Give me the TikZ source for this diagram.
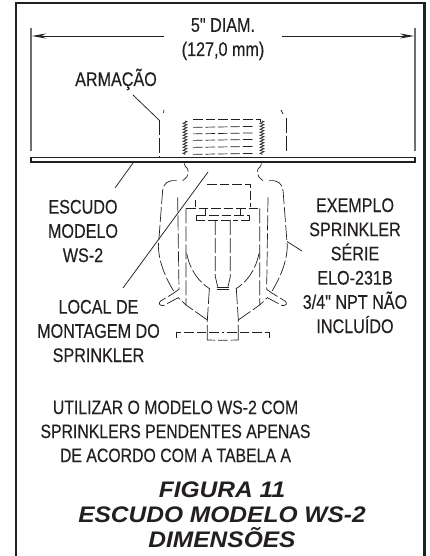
\documentclass[tikz,border=0pt]{standalone}
\usepackage{fontspec}
\usetikzlibrary{arrows.meta,decorations.pathmorphing}
\newfontfamily\narrowsans[FakeStretch=0.82,FakeBold=0.25]{Liberation Sans}
\newfontfamily\capsbold[FakeStretch=1.09]{Liberation Sans Bold Italic}
\definecolor{ink}{HTML}{231F20}
\tikzset{
  lbl/.style={text=ink,align=center,inner sep=0pt,anchor=base,font=\narrowsans\fontsize{19.7}{24.2}\selectfont},
  lblsmall/.style={text=ink,align=center,inner sep=0pt,anchor=base,font=\narrowsans\fontsize{19.3}{24}\selectfont},
  title/.style={text=ink,align=center,inner sep=0pt,anchor=base,font=\capsbold\fontsize{22.5}{24.7}\selectfont},
  frameline/.style={draw=ink,line width=2.2pt},
  extline/.style={draw=ink!65,line width=1.5pt},
  dimline/.style={draw=ink,line width=0.8pt,-{Stealth[length=14pt,width=5pt]}},
  leader/.style={draw=ink,line width=0.75pt},
  solidthin/.style={draw=ink,line width=0.7pt},
  dashthin/.style={draw=ink,line width=0.7pt,dash pattern=on 15pt off 3pt},
  dashshort/.style={draw=ink,line width=0.7pt,dash pattern=on 9.5pt off 3pt},
  threadline/.style={draw=ink,line width=0.7pt,decorate,decoration={zigzag,segment length=3pt,amplitude=2pt}},
  shield/.style={draw=ink,fill=white,line width=1.5pt}
}
\newcommand{\halfsprinkler}{%
    \draw[dashshort] (163,70) -- (165,78) .. controls (178,88) and (182,105) .. (158,122);
    \draw[dashthin] (140,122) .. controls (112,120) and (102,130) .. (98,150) -- (85,320) .. controls (88,370) and (105,410) .. (132,455);
    \draw[dashthin] (143,172) -- (147,448) -- (130,460) -- (92,483) .. controls (84,490) and (88,497) .. (100,497) -- (145,473) -- (168,495);
    \draw[dashthin] (168,205) -- (168,495) -- (232,540);
    \draw[dashthin] (170,340) .. controls (180,390) and (205,425) .. (240,447);
    \draw[dashthin] (238,447) -- (232,540) -- (232,595);
    \draw[dashthin] (256,240) -- (256,410) -- (263,440);
    \draw[solidthin] (227,204) -- (227,226);
    \draw[solidthin] (200,226) -- (200,240) -- (225,240);
    \draw[dashshort] (140,593) -- (140,578) -- (278,578);
    \draw[dashshort] (232,595) -- (232,600) -- (278,601);
}
\begin{document}
\begin{tikzpicture}[x=1pt,y=-1pt]
\useasboundingbox (0,0) rectangle (430,556);
\fill[white] (0,0) rectangle (430,556);
% frame
\draw[frameline,line join=miter] (16,556) -- (16,3) -- (424.5,3) -- (424.5,556);
% dimension
\coordinate (extLtop) at (31,28); \coordinate (extLbot) at (31,151);
\coordinate (extRtop) at (415,28); \coordinate (extRbot) at (415,151);
\draw[extline] (extLtop) -- (extLbot);
\draw[extline] (extRtop) -- (extRbot);
\coordinate (dimL) at (164,36); \coordinate (dimR) at (282,36);
\coordinate (arrL) at (32,36); \coordinate (arrR) at (414,36);
\draw[dimline] (dimL) -- (arrL);
\draw[dimline] (dimR) -- (arrR);
\node[lbl] (dimtext) at (223,56) {5" DIAM.\\(127,0 mm)};
% shield
\node[shield,minimum width=384pt,minimum height=4.5pt,inner sep=0pt,outer sep=0pt] (plate) at (223,160) {};
% frame arms above plate
\draw[dashthin] (159,120) -- (159,157);
\draw[dashthin] (286,118) -- (286,153);
\draw[solidthin] (164,110) -- (163.5,113);
\draw[solidthin] (281,110) -- (283,114);
% threads
\draw[threadline] (185,121) -- (185,155);
\draw[threadline] (262,121) -- (262,155);
% internal thread lines
\draw[dashshort] (193,119.5) -- (260,119.5) -- (260,122);
\foreach \yy/\xa in {127/254,133.5/254,140/254,147/254,154/254}
  \draw[dashshort] (193,\yy+0.4) -- (\xa,\yy-0.6);
% labels
\node[lbl] (armacao) at (116,86) {ARMAÇÃO};
\coordinate (armEnd) at (159,120); \coordinate (armStart) at (133,95);
\draw[leader] (armStart) -- (armEnd);
\node[lbl] (escudo) at (83,262) {ESCUDO\\MODELO\\WS-2};
\coordinate (escA) at (133,163); \coordinate (escB) at (115,188);
\draw[leader] (escA) -- (escB);
\node[lbl] (local) at (98.5,362) {LOCAL DE\\MONTAGEM DO\\SPRINKLER};
\coordinate (locA) at (208,172); \coordinate (locB) at (123,288);
\draw[leader] (locA) -- (locB);
\node[lbl] (exemplo) at (355,333) {EXEMPLO\\SPRINKLER\\SÉRIE\\ELO-231B\\3/4" NPT NÃO\\INCLUÍDO};
\coordinate (exA) at (287,241.5); \coordinate (exB) at (302,251);
\draw[leader] (exA) -- (exB);
\node[lblsmall] (note) at (175.5,462) {UTILIZAR O MODELO WS-2 COM\\SPRINKLERS PENDENTES APENAS\\DE ACORDO COM A TABELA A};
\node[title] (fig) at (222,547) {FIGURA 11\\ESCUDO MODELO WS-2\\DIMENSÕES};
% sprinkler (coordinates in 1/3 px from crop origin)
\begin{scope}[shift={(130pt,-140pt)},x=0.33333pt,y=-0.33333pt]
  \halfsprinkler
  \begin{scope}[xshift=185.67pt,xscale=-1]
    \halfsprinkler
  \end{scope}
  \draw[dashshort] (168,205) -- (390,205);
  \draw[dashshort] (200,227) -- (358,227);
  \draw[dashshort] (235,240) -- (325,240);
  \draw[dashshort] (195,200) -- (195,180);
  \draw[dashshort] (232,132) -- (362,132) -- (362,200);
  \draw[solidthin] (260,441) -- (297,441);
  \draw[solidthin] (260,447) -- (297,447);
\end{scope}
\end{tikzpicture}
\end{document}
